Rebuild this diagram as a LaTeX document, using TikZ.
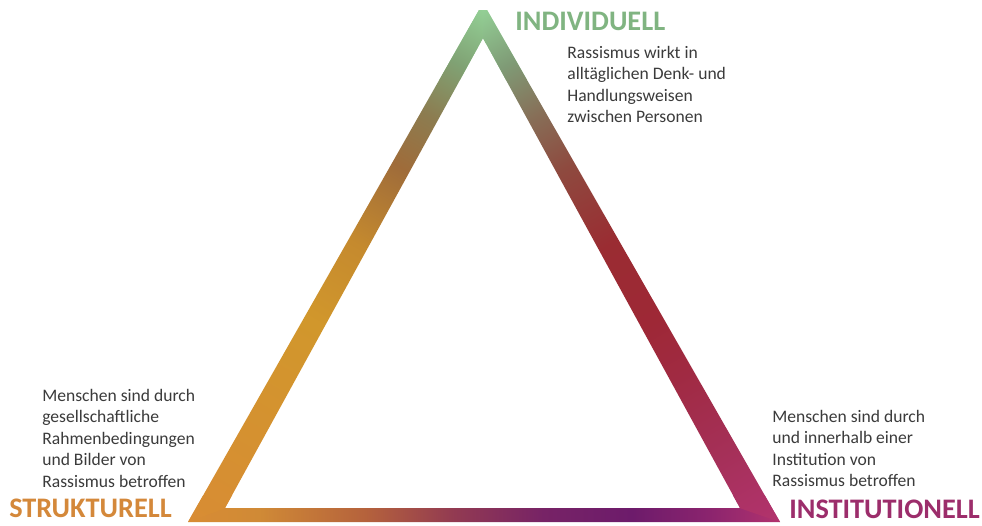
\documentclass[tikz,border=0pt]{standalone}
\usepackage{fontspec}
\setmainfont{Carlito}
\definecolor{cApex}{HTML}{93CF95}
\definecolor{cL1}{HTML}{80A274}
\definecolor{cL2}{HTML}{8C7C50}
\definecolor{cL3}{HTML}{9F6C3A}
\definecolor{cL4}{HTML}{C58A2E}
\definecolor{cL5}{HTML}{D1972C}
\definecolor{cOrange}{HTML}{D88C34}
\definecolor{cR1}{HTML}{7F9B76}
\definecolor{cR2}{HTML}{876E57}
\definecolor{cR3}{HTML}{8E4A3F}
\definecolor{cR4}{HTML}{9A2C32}
\definecolor{cR5}{HTML}{9E2836}
\definecolor{cR6}{HTML}{A02A42}
\definecolor{cR7}{HTML}{A53058}
\definecolor{cMagenta}{HTML}{B2336E}
\definecolor{cB1}{HTML}{D08A36}
\definecolor{cB2}{HTML}{B5623C}
\definecolor{cB3}{HTML}{923A52}
\definecolor{cB4}{HTML}{772366}
\definecolor{cB5}{HTML}{6D1B6B}
\definecolor{cB6}{HTML}{8B246E}
\definecolor{bodygray}{HTML}{3B3B3B}
\definecolor{indgreen}{HTML}{80B481}
\definecolor{strorange}{HTML}{D4883A}
\definecolor{instmag}{HTML}{9C2D6B}
\pgfdeclarehorizontalshading{leftgrad}{100bp}{color(0bp)=(cApex); color(25bp)=(cApex); color(30bp)=(cL1); color(35bp)=(cL2); color(40bp)=(cL3); color(47.5bp)=(cL4); color(55bp)=(cL5); color(75bp)=(cOrange); color(100bp)=(cOrange)}
\pgfdeclarehorizontalshading{rightgrad}{100bp}{color(0bp)=(cApex); color(25bp)=(cApex); color(30bp)=(cR1); color(35bp)=(cR2); color(40bp)=(cR3); color(47.5bp)=(cR4); color(55bp)=(cR5); color(60bp)=(cR6); color(67.5bp)=(cR7); color(75bp)=(cMagenta); color(100bp)=(cMagenta)}
\pgfdeclarehorizontalshading{botgrad}{100bp}{color(0bp)=(cOrange); color(25bp)=(cOrange); color(31bp)=(cB1); color(40bp)=(cB2); color(47.5bp)=(cB3); color(55bp)=(cB4); color(62.5bp)=(cB5); color(69bp)=(cB6); color(75bp)=(cMagenta); color(100bp)=(cMagenta)}
\tikzset{
  head/.style={font=\fontsize{16.1}{19}\selectfont\bfseries, anchor=base west, inner sep=0pt},
  body/.style={font=\fontsize{10}{12.3}\selectfont, text=bodygray, anchor=base west, inner sep=0pt}
}
\begin{document}
\begin{tikzpicture}[x=0.02cm, y=-0.02cm]
\path[use as bounding box] (0,0) rectangle (982,525);
\fill[white] (0,0) rectangle (982,525);
\coordinate (OTL) at (479,10);
\coordinate (OTR) at (487,10);
\coordinate (OBL) at (188,522);
\coordinate (OBR) at (780,522);
\coordinate (IT) at (483,38);
\coordinate (IBL) at (225,508);
\coordinate (IBR) at (740,508);
\begin{scope}[even odd rule]
  \clip (OTL) -- (OTR) -- (OBR) -- (OBL) -- cycle (IT) -- (IBR) -- (IBL) -- cycle;
  \fill[cApex] (400,0) rectangle (570,80);
  % bottom side
  \begin{scope}
    \clip (0,495) rectangle (982,530);
    \shade[shading=botgrad] (188,490) rectangle (780,530);
  \end{scope}
  % left side
  \begin{scope}
    \clip (-10,-10) -- (486,-10) -- (486,100) -- (240,503) -- (160,532) -- (-10,532) -- cycle;
    \begin{scope}[transform canvas={shift={(483,10)}, rotate=239.7}]
      \shade[shading=leftgrad] (0,-60) rectangle (591,60);
    \end{scope}
  \end{scope}
  % right side
  \begin{scope}
    \clip (483,-10) -- (992,-10) -- (992,535) -- (800,529) -- (725,503) -- (483,100) -- cycle;
    \begin{scope}[transform canvas={shift={(483,10)}, rotate=-59.9}]
      \shade[shading=rightgrad] (0,-60) rectangle (592,60);
    \end{scope}
  \end{scope}
\end{scope}
% labels
\node[head, text=indgreen] (ind) at (515,30) {INDIVIDUELL};
\node[body] (indtxt) at (567,58) {\vtop{\hbox{Rassismus wirkt in}\hbox{alltäglichen Denk- und}\hbox{Handlungsweisen}\hbox{zwischen Personen}}};
\node[head, text=strorange] (str) at (9,517) {STRUKTURELL};
\node[body] (strtxt) at (42,401) {\vtop{\hbox{Menschen sind durch}\hbox{gesellschaftliche}\hbox{Rahmenbedingungen}\hbox{und Bilder von}\hbox{Rassismus betroffen}}};
\node[head, text=instmag] (inst) at (789,518) {INSTITUTIONELL};
\node[body] (insttxt) at (772,422) {\vtop{\hbox{Menschen sind durch}\hbox{und innerhalb einer}\hbox{Institution von}\hbox{Rassismus betroffen}}};
\end{tikzpicture}
\end{document}
